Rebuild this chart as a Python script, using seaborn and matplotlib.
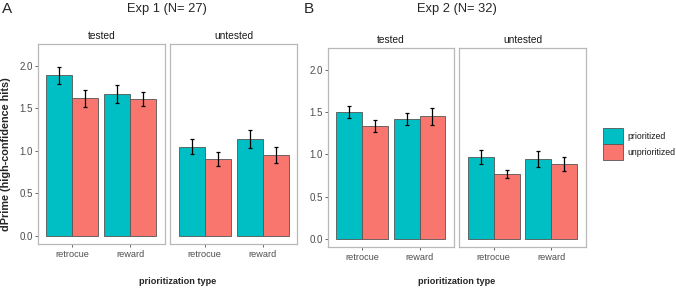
import matplotlib
matplotlib.use("Agg")
import matplotlib.pyplot as plt
from matplotlib.container import BarContainer
from matplotlib.patches import Rectangle
import seaborn as sns
import pandas as pd
import numpy as np

sns.set_style("white")
plt.rcParams['font.family'] = ['Liberation Sans', 'DejaVu Sans']

groups = ["prioritized", "unprioritized"]
types = ["retrocue", "reward"]
facets = ["tested", "untested"]
titles = ["Exp 1 (N= 27)", "Exp 2 (N= 32)"]
letters = ["A", "B"]

# Exp 1 means and standard errors (per type: retrocue, reward)
exp1_tested_prio = [1.89, 1.67]
exp1_tested_unprio = [1.62, 1.61]
exp1_untested_prio = [1.05, 1.14]
exp1_untested_unprio = [0.90, 0.95]
exp1_tested_prio_se = [0.10, 0.105]
exp1_tested_unprio_se = [0.10, 0.085]
exp1_untested_prio_se = [0.09, 0.105]
exp1_untested_unprio_se = [0.085, 0.095]

# Exp 2
exp2_tested_prio = [1.50, 1.42]
exp2_tested_unprio = [1.33, 1.45]
exp2_untested_prio = [0.965, 0.945]
exp2_untested_unprio = [0.765, 0.885]
exp2_tested_prio_se = [0.07, 0.07]
exp2_tested_unprio_se = [0.07, 0.10]
exp2_untested_prio_se = [0.085, 0.09]
exp2_untested_unprio_se = [0.045, 0.08]

palette = {"prioritized": "#00BFC4", "unprioritized": "#F8766D"}

exps = [
    {"tested": (exp1_tested_prio, exp1_tested_unprio, exp1_tested_prio_se, exp1_tested_unprio_se),
     "untested": (exp1_untested_prio, exp1_untested_unprio, exp1_untested_prio_se, exp1_untested_unprio_se)},
    {"tested": (exp2_tested_prio, exp2_tested_unprio, exp2_tested_prio_se, exp2_tested_unprio_se),
     "untested": (exp2_untested_prio, exp2_untested_unprio, exp2_untested_prio_se, exp2_untested_unprio_se)},
]

W, H = 676, 288
fig = plt.figure(figsize=(W / 100, H / 100), dpi=100)

def ax_px(x0, y0, x1, y1):
    return fig.add_axes([x0 / W, 1 - y1 / H, (x1 - x0) / W, (y1 - y0) / H])

panel_px = [
    [(37.7, 44, 165, 244), (170, 44, 297.3, 244)],
    [(327.5, 47.7, 454, 247.3), (459, 47.7, 586, 247.3)],
]
border = "#B8B8B8"
tickc = "#4D4D4D"

for e, exp in enumerate(exps):
    for f, facet in enumerate(facets):
        prio, unprio, prio_se, unprio_se = exp[facet]
        df = pd.DataFrame({
            "type": types * 2,
            "group": [groups[0]] * 2 + [groups[1]] * 2,
            "value": prio + unprio,
            "se": prio_se + unprio_se,
        })
        ax = ax_px(*panel_px[e][f])
        sns.barplot(data=df, x="type", y="value", hue="group", order=types,
                    hue_order=groups, palette=palette, width=0.9, errorbar=None,
                    edgecolor="#555555", linewidth=0.6, saturation=1, ax=ax,
                    legend=False)
        bar_conts = [c for c in ax.containers if isinstance(c, BarContainer)]
        for gi, cont in enumerate(bar_conts):
            ses = prio_se if gi == 0 else unprio_se
            vals = prio if gi == 0 else unprio
            for bar, v, s in zip(cont.patches, vals, ses):
                xc = bar.get_x() + bar.get_width() / 2
                ax.errorbar(xc, v, yerr=s, color="black", lw=0.9, capsize=1.2,
                            capthick=0.9)
        ax.set_xlim(-0.6, 1.6)
        ax.set_ylim(-0.1, 2.26)
        ax.set_xlabel("")
        ax.set_ylabel("")
        for sp in ax.spines.values():
            sp.set_visible(True)
            sp.set_color(border)
            sp.set_linewidth(0.9)
        ax.tick_params(axis="x", colors=tickc, labelcolor=tickc, length=2,
                       width=0.6, labelsize=6.6, pad=2, bottom=True)
        ax.set_yticks([0, 0.5, 1.0, 1.5, 2.0])
        if f == 0:
            ax.set_yticklabels(["0.0", "0.5", "1.0", "1.5", "2.0"])
            ax.tick_params(axis="y", colors=tickc, labelcolor=tickc, length=2,
                           width=0.6, labelsize=7, pad=1.5, left=True)
        else:
            ax.tick_params(axis="y", left=False, labelleft=False)
        x0, y0, x1, y1 = panel_px[e][f]
        fig.text((x0 + x1) / 2 / W, 1 - (y0 - 8) / H, facet, ha="center",
                 va="center", fontsize=7.3, color="#1A1A1A")

# titles and letters
fig.text(167 / W, 1 - 9 / H, titles[0], ha="center", va="center", fontsize=9.3)
fig.text(457 / W, 1 - 9 / H, titles[1], ha="center", va="center", fontsize=9.3)
fig.text(7 / W, 1 - 9 / H, letters[0], ha="center", va="center", fontsize=11)
fig.text(309 / W, 1 - 9 / H, letters[1], ha="center", va="center", fontsize=11)

# axis labels
fig.text(6 / W, 1 - 154 / H, "dPrime (high-confidence hits)", rotation=90,
         ha="center", va="center", fontsize=7.8, fontweight="bold")
fig.text(178 / W, 1 - 281 / H, "prioritization type", ha="center", va="center",
         fontsize=6.6, fontweight="bold")
fig.text(457 / W, 1 - 282 / H, "prioritization type", ha="center", va="center",
         fontsize=6.6, fontweight="bold")

# legend
for i, g in enumerate(groups):
    y0 = 128.3 + i * 16
    fig.patches.append(Rectangle((602.5 / W, 1 - (y0 + 16) / H), 20.5 / W, 16 / H,
                                 transform=fig.transFigure, facecolor=palette[g],
                                 edgecolor="#555555", lw=0.6))
    fig.text(627 / W, 1 - (y0 + 8) / H, g, ha="left", va="center", fontsize=6.3,
             color="#1A1A1A")

fig.savefig("out.png", dpi=100)
